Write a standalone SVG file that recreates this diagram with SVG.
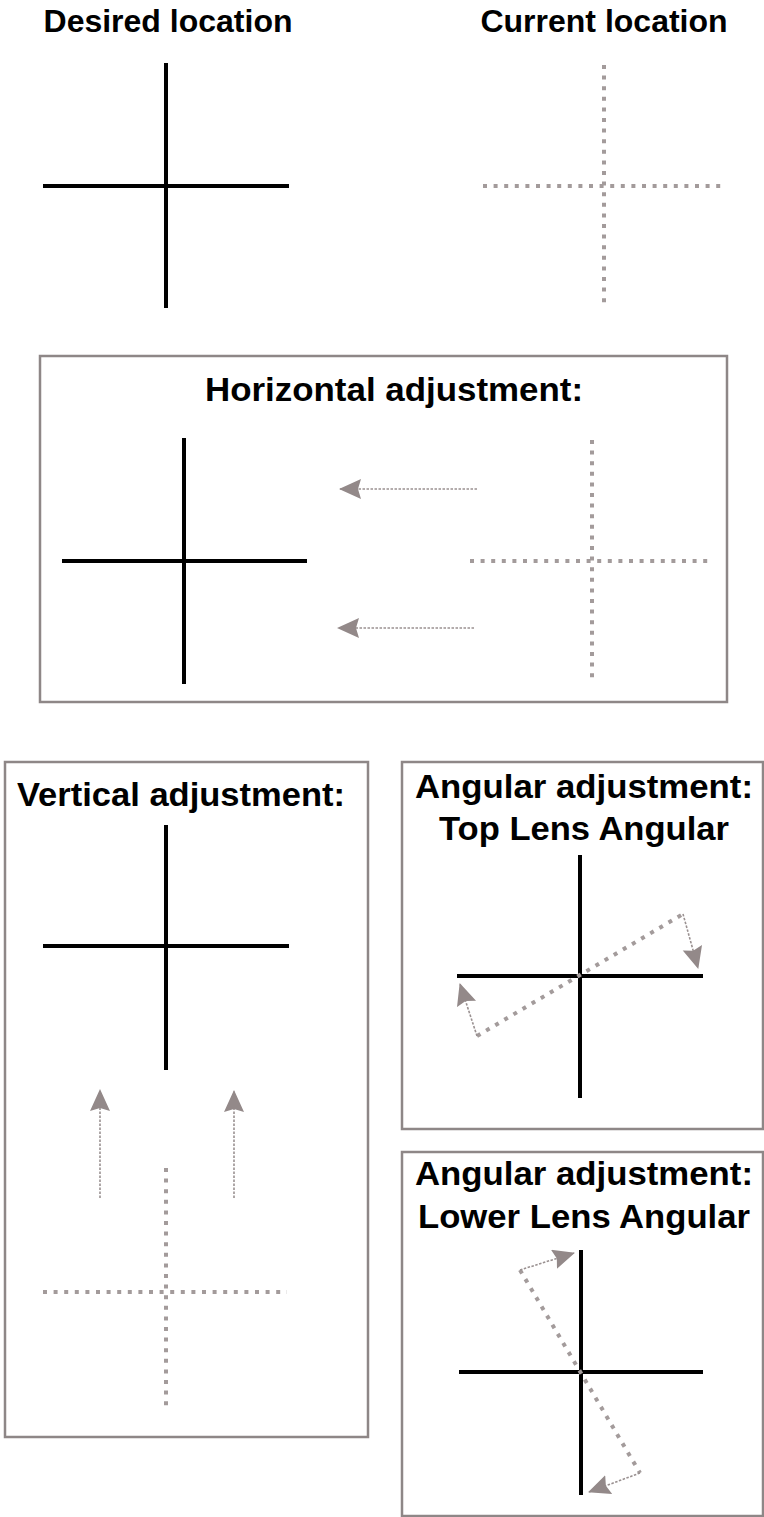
<svg xmlns="http://www.w3.org/2000/svg" width="764" height="1517" viewBox="0 0 764 1517">
<style>
.t{font-family:"Liberation Sans",Arial,sans-serif;font-weight:bold;font-size:32px;fill:#000;text-anchor:middle}
.b{font-size:34px}
.solid{stroke:#000;stroke-width:4;fill:none}
.dot{stroke:#a39b9b;stroke-width:4;stroke-dasharray:4 6.6;fill:none}
.box{fill:none;stroke:#8e8787;stroke-width:2.5}
.arr{stroke:#9a9191;stroke-width:1.6;stroke-dasharray:2.5 1.5;fill:none;marker-end:url(#ah)}
</style>
<defs>
<marker id="ah" markerUnits="userSpaceOnUse" markerWidth="24" markerHeight="22" refX="21" refY="10" orient="auto">
<path d="M0,0 L22,10 L0,20 L3,10 Z" fill="#938989"/>
</marker>
</defs>
<rect width="764" height="1517" fill="#fff"/>
<g id="desired">
<text class="t" x="168" y="32">Desired location</text>
<line class="solid" x1="166" y1="63" x2="166" y2="308"/>
<line class="solid" x1="43" y1="186" x2="289" y2="186"/>
</g>
<g id="current">
<text class="t" x="604" y="32">Current location</text>
<line class="dot" x1="604" y1="65" x2="604" y2="303"/>
<line class="dot" x1="483" y1="186" x2="724" y2="186"/>
</g>
<g id="horizontal">
<rect class="box" x="40" y="356" width="687" height="346"/>
<text class="t b" x="394" y="401" textLength="378" lengthAdjust="spacingAndGlyphs">Horizontal adjustment:</text>
<line class="solid" x1="184" y1="438" x2="184" y2="684"/>
<line class="solid" x1="62" y1="561" x2="307" y2="561"/>
<line class="dot" x1="592" y1="440" x2="592" y2="679"/>
<line class="dot" x1="470" y1="561" x2="711" y2="561"/>
</g>
<g id="vertical">
<rect class="box" x="5" y="762" width="363" height="675"/>
<text class="t b" x="181" y="806" textLength="328" lengthAdjust="spacingAndGlyphs">Vertical adjustment:</text>
<line class="solid" x1="166" y1="825" x2="166" y2="1070"/>
<line class="solid" x1="43" y1="946" x2="289" y2="946"/>
<line class="dot" x1="166" y1="1168" x2="166" y2="1411"/>
<line class="dot" x1="43" y1="1292" x2="287" y2="1292"/>
</g>
<g id="top-lens">
<rect class="box" x="402" y="762" width="361" height="367"/>
<text class="t b" x="584" y="798" textLength="338" lengthAdjust="spacingAndGlyphs">Angular adjustment:</text>
<text class="t b" x="584" y="840" textLength="290" lengthAdjust="spacingAndGlyphs">Top Lens Angular</text>
<line class="solid" x1="580" y1="855" x2="580" y2="1098"/>
<line class="solid" x1="457" y1="976" x2="703" y2="976"/>
<line class="dot" x1="477" y1="1036" x2="683" y2="914"/>
</g>
<g id="lower-lens">
<rect class="box" x="402" y="1152" width="361" height="364"/>
<text class="t b" x="584" y="1185" textLength="338" lengthAdjust="spacingAndGlyphs">Angular adjustment:</text>
<text class="t b" x="584" y="1228" textLength="332" lengthAdjust="spacingAndGlyphs">Lower Lens Angular</text>
<line class="solid" x1="581" y1="1250" x2="581" y2="1495"/>
<line class="solid" x1="459" y1="1372" x2="703" y2="1372"/>
<line class="dot" x1="520" y1="1270" x2="640" y2="1473"/>
</g>
<g id="connectors">
<line class="arr" x1="477" y1="489" x2="340" y2="489"/>
<line class="arr" x1="474" y1="628" x2="338" y2="628"/>
<line class="arr" x1="100" y1="1198" x2="100" y2="1090"/>
<line class="arr" x1="234" y1="1198" x2="234" y2="1091"/>
<line class="arr" x1="683" y1="914" x2="698" y2="968"/>
<line class="arr" x1="477" y1="1036" x2="460" y2="984"/>
<line class="arr" x1="520" y1="1270" x2="574" y2="1253"/>
<line class="arr" x1="640" y1="1473" x2="589" y2="1492"/>
</g>
</svg>
